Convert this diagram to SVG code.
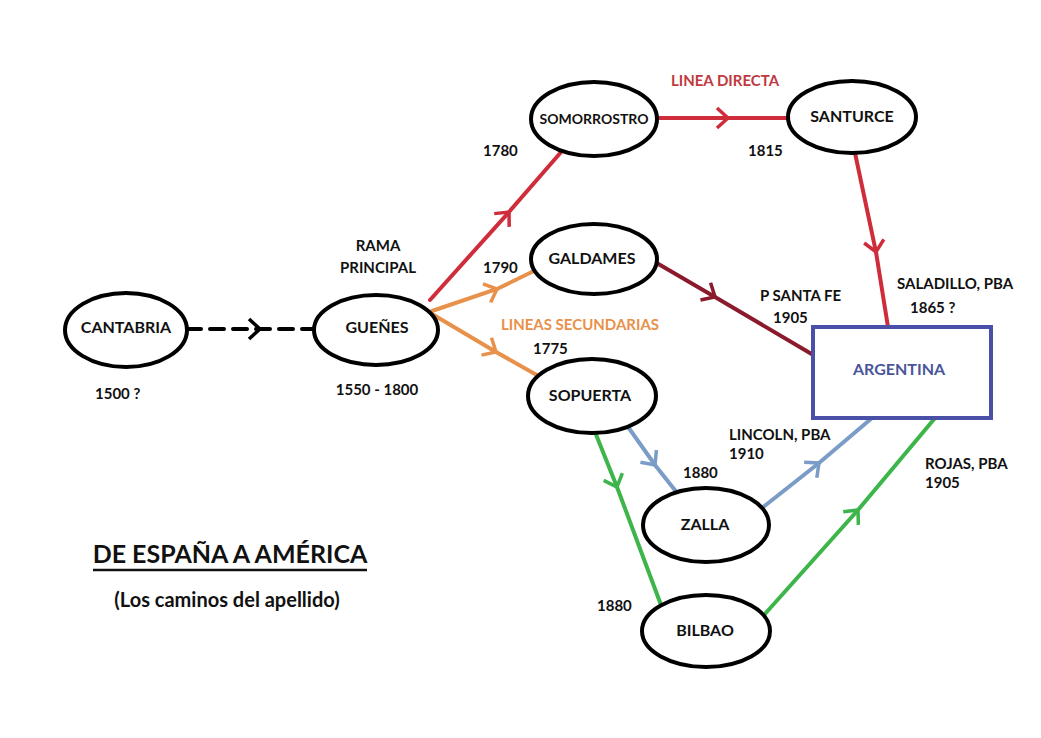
<svg xmlns="http://www.w3.org/2000/svg" width="1041" height="738" viewBox="0 0 1041 738">
<style>
text{font-family:Lato,"Open Sans","Liberation Sans",sans-serif;font-weight:bold;fill:#111}
.n{fill:#fff;stroke:#000;stroke-width:4}
.nt{font-size:16px;text-anchor:middle}
.lb{font-size:15px}
.c{fill:none;stroke-width:4;stroke-linecap:round}
</style>
<defs>
<marker id="mk" markerUnits="userSpaceOnUse" viewBox="-14 -12 16 24" markerWidth="16" markerHeight="24" refX="0" refY="0" orient="auto"><polyline points="-11,-10 0,0 -11,10" fill="none" stroke="#000" stroke-width="3.5"/></marker>
<marker id="mr" markerUnits="userSpaceOnUse" viewBox="-14 -12 16 24" markerWidth="16" markerHeight="24" refX="0" refY="0" orient="auto"><polyline points="-11,-10 0,0 -11,10" fill="none" stroke="#cf2d3b" stroke-width="3.5"/></marker>
<marker id="md" markerUnits="userSpaceOnUse" viewBox="-14 -12 16 24" markerWidth="16" markerHeight="24" refX="0" refY="0" orient="auto"><polyline points="-11,-10 0,0 -11,10" fill="none" stroke="#8b1a2c" stroke-width="3.5"/></marker>
<marker id="mo" markerUnits="userSpaceOnUse" viewBox="-14 -12 16 24" markerWidth="16" markerHeight="24" refX="0" refY="0" orient="auto"><polyline points="-11,-10 0,0 -11,10" fill="none" stroke="#e8914a" stroke-width="3.5"/></marker>
<marker id="mb" markerUnits="userSpaceOnUse" viewBox="-14 -12 16 24" markerWidth="16" markerHeight="24" refX="0" refY="0" orient="auto"><polyline points="-11,-10 0,0 -11,10" fill="none" stroke="#7a9cc6" stroke-width="3.5"/></marker>
<marker id="mg" markerUnits="userSpaceOnUse" viewBox="-14 -12 16 24" markerWidth="16" markerHeight="24" refX="0" refY="0" orient="auto"><polyline points="-11,-10 0,0 -11,10" fill="none" stroke="#3db54a" stroke-width="3.5"/></marker>
</defs>
<rect width="1041" height="738" fill="#fff"/>
<g id="connectors">
<path class="c" d="M187,329 L260,329 L315,329" stroke="#000" stroke-width="4.5" stroke-dasharray="14,9" stroke-linecap="butt" marker-mid="url(#mk)"/>
<path class="c" d="M430,300 L509,212 L562,151" stroke="#cf2d3b" marker-mid="url(#mr)"/>
<path class="c" d="M432,311 L497,289 L540,268" stroke="#e8914a" marker-mid="url(#mo)"/>
<path class="c" d="M432,314 L496,352 L542,378" stroke="#e8914a" marker-mid="url(#mo)"/>
<path class="c" d="M655,262 L715,297 L815,356" stroke="#8b1a2c" marker-mid="url(#md)"/>
<path class="c" d="M657,118 L728,118 L790,118" stroke="#cf2d3b" marker-mid="url(#mr)"/>
<path class="c" d="M855,153 L876,252 L888,327" stroke="#cf2d3b" marker-mid="url(#mr)"/>
<path class="c" d="M626,424 L655,465 L678,494" stroke="#7a9cc6" marker-mid="url(#mb)"/>
<path class="c" d="M762,508 L819,463 L872,418" stroke="#7a9cc6" marker-mid="url(#mb)"/>
<path class="c" d="M595,432 L617,487 L661,605" stroke="#3db54a" marker-mid="url(#mg)"/>
<path class="c" d="M764,615 L858,510 L935,418" stroke="#3db54a" marker-mid="url(#mg)"/>
</g>
<g id="cantabria"><ellipse class="n" cx="126" cy="330" rx="61" ry="37"/><text class="nt" x="126" y="333">CANTABRIA</text></g>
<g id="guenes"><ellipse class="n" cx="376" cy="330" rx="62" ry="35"/><text class="nt" x="377" y="333">GUEÑES</text></g>
<g id="somorrostro"><ellipse class="n" cx="594" cy="119" rx="63" ry="37"/><text class="nt" x="594" y="124" style="font-size:14px">SOMORROSTRO</text></g>
<g id="santurce"><ellipse class="n" cx="852" cy="117" rx="64" ry="36"/><text class="nt" x="852" y="122">SANTURCE</text></g>
<g id="galdames"><ellipse class="n" cx="594" cy="259" rx="63" ry="35"/><text class="nt" x="592" y="264">GALDAMES</text></g>
<g id="sopuerta"><ellipse class="n" cx="592" cy="396" rx="64" ry="37"/><text class="nt" x="590" y="401">SOPUERTA</text></g>
<g id="zalla"><ellipse class="n" cx="706" cy="525" rx="63" ry="37"/><text class="nt" x="705" y="530">ZALLA</text></g>
<g id="bilbao"><ellipse class="n" cx="706" cy="631" rx="64" ry="36"/><text class="nt" x="705" y="636">BILBAO</text></g>
<g id="argentina"><rect x="813" y="327" width="178" height="91" fill="#fff" stroke="#4a4fa8" stroke-width="4"/><text class="nt" x="899" y="375" style="fill:#4a5599">ARGENTINA</text></g>
<g id="labels">
<text x="725" y="86" style="font-size:15px;fill:#c0393f;text-anchor:middle">LINEA DIRECTA</text>
<text x="580" y="330" style="font-size:15px;fill:#e8914a;text-anchor:middle">LINEAS SECUNDARIAS</text>
<text class="lb" x="378" y="251" text-anchor="middle">RAMA</text>
<text class="lb" x="378" y="273" text-anchor="middle">PRINCIPAL</text>
<text class="lb" x="95" y="399">1500 ?</text>
<text class="lb" x="377" y="395" text-anchor="middle">1550 - 1800</text>
<text class="lb" x="483" y="156">1780</text>
<text class="lb" x="748" y="156">1815</text>
<text class="lb" x="483" y="273">1790</text>
<text class="lb" x="533" y="354">1775</text>
<text class="lb" x="760" y="301">P SANTA FE</text>
<text class="lb" x="773" y="323">1905</text>
<text class="lb" x="897" y="289">SALADILLO, PBA</text>
<text class="lb" x="910" y="313">1865 ?</text>
<text class="lb" x="729" y="440">LINCOLN, PBA</text>
<text class="lb" x="729" y="459">1910</text>
<text class="lb" x="683" y="478">1880</text>
<text class="lb" x="925" y="469">ROJAS, PBA</text>
<text class="lb" x="925" y="488">1905</text>
<text class="lb" x="597" y="611">1880</text>
<text x="230" y="563" style="font-size:25px;text-anchor:middle">DE ESPAÑA A AMÉRICA</text>
<line x1="93" y1="570" x2="367" y2="570" stroke="#111" stroke-width="2.5"/>
<text x="227" y="607" style="font-size:20px;text-anchor:middle">(Los caminos del apellido)</text>
</g>
</svg>
